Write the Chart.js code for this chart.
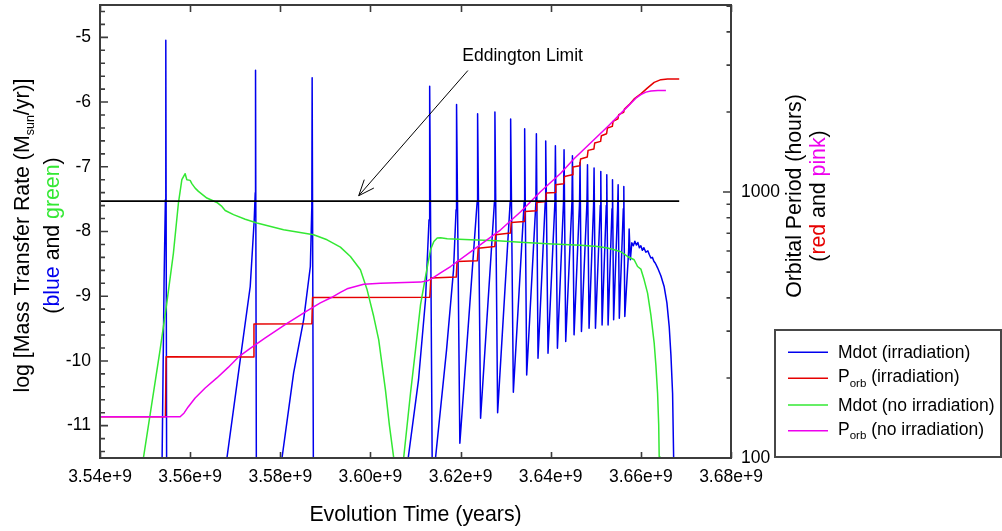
<!DOCTYPE html>
<html><head><meta charset="utf-8">
<script src="https://cdn.jsdelivr.net/npm/chart.js@4.4.1/dist/chart.umd.min.js"></script>
<style>html,body{margin:0;padding:0;background:#fff;overflow:hidden}canvas{display:block}</style>
</head><body>
<canvas id="c" width="1002" height="531" style="width:1002px;height:531px"></canvas>
<script>
// ---------------- data (time in units of 1e9 years) ----------------
const xTickValues = [3.54, 3.56, 3.58, 3.60, 3.62, 3.64, 3.66, 3.68];
const xTickLabels = ['3.54e+9','3.56e+9','3.58e+9','3.60e+9','3.62e+9','3.64e+9','3.66e+9','3.68e+9'];
const mdotTickValues = [-11, -10, -9, -8, -7, -6, -5];
const mdotTickLabels = ['-11', '-10', '-9', '-8', '-7', '-6', '-5'];
const porbTickValues = [100, 1000];
const porbTickLabels = ['100', '1000'];
const porbMinorTicks = [200,300,400,500,600,700,800,900,2000,3000,4000,5000];

// Mdot (irradiation), log Msun/yr
const mdotIrrTime = [
3.55111,3.55378,3.55422,3.55451,3.55460,3.55482,
3.56667,3.56816,3.57111,3.57333,3.57422,3.57444,3.57451,3.57473,
3.57889,3.58038,3.58296,3.58518,3.58667,3.58700,3.58707,3.58740,
3.60667,3.60838,3.61067,3.61222,3.61300,3.61311,3.61318,3.61384,
3.61411,3.61444,3.61689,3.61844,3.61900,3.61911,3.61984,
3.62367,3.62378,3.62444,
3.62751,3.62762,3.62822,
3.63100,3.63111,3.63171,
3.63411,3.63422,3.63467,
3.63671,3.63682,3.63718,
3.63878,3.63889,3.63940,
3.64093,3.64104,3.64149,
3.64284,3.64296,3.64333,
3.64471,3.64482,3.64518,
3.64640,3.64651,3.64682,
3.64804,3.64816,3.64851,
3.64951,3.64962,3.64993,
3.65100,3.65111,3.65140,
3.65233,3.65244,3.65273,
3.65360,3.65371,3.65396,
3.65484,3.65496,3.65522,
3.65611,3.65622,3.65644,
3.65729,3.65740,3.65767,3.65800,3.65833,3.65867,3.65900,3.65933,3.65967,3.66000,
3.66033,3.66067,3.66111,3.66156,3.66189,3.66222,3.66256,3.66289,3.66322,3.66371,
3.66444,3.66518,3.66578,3.66629,3.66667,3.66704,3.66727,3.66738];
const mdotIrrLog = [
-13,-11.5,-8.747,-7.509,-5.045,-13,
-12.2,-11.5,-9.984,-8.85,-7.818,-7.401,-5.509,-13,
-12.2,-11.5,-10.185,-9.365,-8.541,-7.613,-5.626,-13,
-12.2,-11.5,-10.294,-9.055,-7.818,-7.509,-5.756,-13,
-12.2,-11.5,-9.83,-8.592,-7.664,-6.039,-11.273,
-7.55,-6.179,-10.886,
-7.55,-6.152,-10.799,
-7.55,-6.261,-10.484,
-7.55,-6.411,-10.216,
-7.55,-6.488,-9.958,
-7.55,-6.601,-9.881,
-7.55,-6.674,-9.803,
-7.55,-6.735,-9.701,
-7.55,-6.828,-9.597,
-7.55,-6.932,-9.546,
-7.55,-6.968,-9.494,
-7.6,-7.019,-9.494,
-7.6,-7.071,-9.443,
-7.6,-7.122,-9.443,
-7.65,-7.2,-9.365,
-7.65,-7.277,-9.339,
-7.65,-7.303,-9.314,
-8.3,-7.962,-8.437,-8.174,-8.22,-8.15,-8.21,-8.17,-8.25,-8.22,
-8.29,-8.25,-8.32,-8.30,-8.36,-8.41,-8.40,-8.46,-8.49,-8.561,
-8.685,-8.855,-9.102,-9.469,-9.907,-10.499,-11.48,-12.5];

// P_orb (irradiation), hours
const porbIrrTime = [
3.54000,3.55451,3.55467,3.57400,3.57416,3.58700,3.58716,3.61318,3.61340,3.61904,
3.61922,3.62373,3.62391,3.62760,3.62776,3.63107,3.63124,3.63418,3.63433,3.63676,
3.63689,3.63884,3.63902,3.64098,3.64111,3.64289,3.64307,3.64476,3.64493,3.64644,
3.64662,3.64811,3.64829,3.64958,3.64976,3.65107,3.65124,3.65240,3.65258,3.65367,
3.65384,3.65491,3.65509,3.65618,3.65636,3.65740,3.65851,3.66000,3.66149,3.66296,
3.66444,3.66593,3.66851];
const porbIrrHours = [
143,143,240.5,240,319,320,401,402,474.7,478.8,
548,551.4,615.3,623.9,690.7,700.9,768.5,775.1,845.3,850.4,
914,921.9,991.3,996.5,1065.4,1074.6,1144.9,1161.9,1242.2,1256.3,
1331.4,1354.5,1434.3,1451.7,1529.1,1550.4,1628.9,1657.3,1741.3,1765.7,
1844,1883,1954.3,1993.7,2050,2131,2240,2340,2463,2585,
2646,2662,2662];

// Mdot (no irradiation), log Msun/yr
const mdotNoIrrTime = [
3.54844,3.54962,3.55333,3.55482,3.55629,3.55740,3.55816,3.55889,3.55927,3.56000,
3.56038,3.56111,3.56184,3.56371,3.56593,3.56704,3.56778,3.56962,3.57222,3.57482,
3.58073,3.58740,3.59038,3.59333,3.59556,3.59778,3.59927,3.60073,3.60184,3.60333,
3.60422,3.60518,3.60578,
3.60667,3.60740,3.60889,3.61000,3.61111,3.61222,3.61333,3.61407,3.61482,3.61556,
3.61704,3.62222,3.62816,3.63333,3.63927,3.64667,3.65038,3.65260,3.65407,3.65556,
3.65704,3.65851,3.65927,3.66000,3.66073,3.66149,3.66222,3.66296,3.66333,3.66371,
3.66396,3.66407,3.66422];
const mdotNoIrrLog = [
-12.3,-11.505,-9.83,-9.107,-8.334,-7.56,-7.2,-7.107,-7.2,-7.21,
-7.26,-7.33,-7.38,-7.483,-7.551,-7.613,-7.675,-7.74,-7.81,-7.869,
-7.973,-8.05,-8.128,-8.241,-8.386,-8.592,-8.901,-9.314,-9.675,-10.448,
-11.0,-11.505,-12.3,
-12.0,-11.48,-10.499,-9.83,-9.133,-8.696,-8.282,-8.154,-8.101,-8.097,
-8.112,-8.128,-8.143,-8.166,-8.19,-8.213,-8.231,-8.256,-8.282,-8.313,
-8.386,-8.437,-8.541,-8.58,-8.747,-8.952,-9.288,-9.726,-10.062,-10.499,
-10.99,-11.48,-12.3];

// P_orb (no irradiation), hours
const porbNoIrrTime = [
3.54000,3.55778,3.55867,3.55956,3.56111,3.56333,3.56593,3.56844,3.57067,3.57333,
3.57667,3.58133,3.58593,3.58889,3.59133,3.59333,3.59482,3.59851,3.60222,3.61111,
3.61267,3.61378,3.61556,3.61778,3.62222,3.62889,3.63333,3.63778,3.64222,3.64518,
3.64889,3.65260,3.65704,3.65889,3.66000,3.66111,3.66222,3.66378,3.66556];
const porbNoIrrHours = [
143,143,147.7,155.6,168.2,183.4,200,219.1,239.3,258.4,
282.9,319.4,357.5,383.2,401.2,419.7,432.6,449.8,453.7,458.5,
463.7,474.7,496.9,524.8,596,721.2,843.2,1005.3,1177.3,1334.8,
1533,1761.2,2094.5,2254.4,2324.1,2375,2399.8,2410,2410];

// Eddington limit
const eddTime = [3.54, 3.66851];
const eddLog = [-7.53, -7.53];

// annotation (data coordinates)
const arrowTail = [3.62162, -5.513];
const arrowTip = [3.59740, -7.447];
const annotText = 'Eddington Limit';
const annotPos = [3.62038, -5.297];

// ---------------- styles ----------------
const COL = {blue:'#0000ee', red:'#e60000', green:'#33e833', magenta:'#ee00ee', text:'#000', frame:'#3c3c3c'};
const FONT = '"Liberation Sans", Arial, sans-serif';

function zip(t, v) { const n = Math.min(t.length, v.length); const o = []; for (let i = 0; i < n; i++) o.push({x: t[i], y: v[i]}); return o; }

function drawRich(ctx, segs, x, y, rot, align) {
  ctx.save(); ctx.translate(x, y); if (rot) ctx.rotate(rot);
  ctx.textBaseline = 'alphabetic'; ctx.textAlign = 'left';
  let w = 0;
  for (const s of segs) { ctx.font = s.s + 'px ' + FONT; s.w = ctx.measureText(s.t).width; w += s.w; }
  let cx = align === 'center' ? -w / 2 : 0;
  for (const s of segs) { ctx.font = s.s + 'px ' + FONT; ctx.fillStyle = s.c || COL.text; ctx.fillText(s.t, cx, s.dy || 0); cx += s.w; }
  ctx.restore();
}

const decor = {
  id: 'decor',
  afterDraw(chart) {
    const ctx = chart.ctx, ca = chart.chartArea;
    const xs = chart.scales.x, yl = chart.scales.y, yr = chart.scales.y2;
    ctx.save();
    // frame
    ctx.strokeStyle = COL.frame; ctx.lineWidth = 2;
    ctx.strokeRect(ca.left, ca.top, ca.right - ca.left, ca.bottom - ca.top);
    ctx.lineWidth = 1.6;
    ctx.beginPath();
    // x ticks
    for (const v of xTickValues) {
      const p = Math.round(xs.getPixelForValue(v)) + 0.5;
      ctx.moveTo(p, ca.bottom); ctx.lineTo(p, ca.bottom - 6);
      ctx.moveTo(p, ca.top); ctx.lineTo(p, ca.top + 7);
    }
    // left ticks
    for (const v of mdotTickValues) { const p = yl.getPixelForValue(v); ctx.moveTo(ca.left, p); ctx.lineTo(ca.left + 8, p); }
    for (let k = -114; k <= -46; k += 2) { if (k % 10 === 0) continue; const p = yl.getPixelForValue(k / 10); ctx.moveTo(ca.left, p); ctx.lineTo(ca.left + 5, p); }
    // right ticks
    for (const v of porbTickValues) { const p = yr.getPixelForValue(v); ctx.moveTo(ca.right, p); ctx.lineTo(ca.right - 8, p); }
    for (const v of porbMinorTicks) { const p = yr.getPixelForValue(v); ctx.moveTo(ca.right, p); ctx.lineTo(ca.right - 4.5, p); }
    ctx.stroke();

    // tick labels
    ctx.fillStyle = COL.text; ctx.font = '17.5px ' + FONT; ctx.textBaseline = 'middle';
    ctx.textAlign = 'center';
    xTickValues.forEach((v, i) => ctx.fillText(xTickLabels[i], xs.getPixelForValue(v), 477));
    ctx.textAlign = 'right';
    mdotTickValues.forEach((v, i) => ctx.fillText(mdotTickLabels[i], ca.left - 9, yl.getPixelForValue(v)));
    ctx.textAlign = 'left';
    porbTickValues.forEach((v, i) => ctx.fillText(porbTickLabels[i], ca.right + 10, yr.getPixelForValue(v)));

    // axis titles
    const T = 21.3;
    drawRich(ctx, [{t:'Evolution Time (years)', s:T}], (ca.left + ca.right) / 2, 521, 0, 'center');
    drawRich(ctx, [{t:'log [Mass Transfer Rate (M', s:T}, {t:'sun', s:12.5, dy:5}, {t:'/yr)]', s:T}], 28.8, 235.5, -Math.PI/2, 'center');
    drawRich(ctx, [{t:'(', s:T}, {t:'blue', s:T, c:COL.blue}, {t:' and ', s:T}, {t:'green', s:T, c:COL.green}, {t:')', s:T}], 58.5, 235.5, -Math.PI/2, 'center');
    drawRich(ctx, [{t:'Orbital Period (hours)', s:T}], 800.5, 196, -Math.PI/2, 'center');
    drawRich(ctx, [{t:'(', s:T}, {t:'red', s:T, c:COL.red}, {t:' and ', s:T}, {t:'pink', s:T, c:COL.magenta}, {t:')', s:T}], 825, 196, -Math.PI/2, 'center');

    // annotation arrow
    const tx = xs.getPixelForValue(arrowTail[0]), ty = yl.getPixelForValue(arrowTail[1]);
    const hx = xs.getPixelForValue(arrowTip[0]), hy = yl.getPixelForValue(arrowTip[1]);
    ctx.strokeStyle = '#000'; ctx.lineWidth = 1;
    ctx.beginPath(); ctx.moveTo(tx, ty); ctx.lineTo(hx, hy);
    const ang = Math.atan2(ty - hy, tx - hx), L = 17, a = 22 * Math.PI / 180;
    ctx.moveTo(hx + L * Math.cos(ang + a), hy + L * Math.sin(ang + a)); ctx.lineTo(hx, hy);
    ctx.lineTo(hx + L * Math.cos(ang - a), hy + L * Math.sin(ang - a));
    ctx.stroke();
    ctx.fillStyle = COL.text; ctx.font = '17.5px ' + FONT; ctx.textAlign = 'left'; ctx.textBaseline = 'middle';
    ctx.fillText(annotText, xs.getPixelForValue(annotPos[0]), yl.getPixelForValue(annotPos[1]));

    // legend
    ctx.strokeStyle = '#474747'; ctx.lineWidth = 2;
    ctx.strokeRect(775, 330, 226, 127);
    const rows = [
      {y:352.3, c:COL.blue, segs:[{t:'Mdot (irradiation)', s:17.5}], b:6},
      {y:378.3, c:COL.red, segs:[{t:'P', s:17.5}, {t:'orb', s:11.5, dy:4.5}, {t:' (irradiation)', s:17.5}], b:4},
      {y:405, c:COL.green, segs:[{t:'Mdot (no irradiation)', s:17.5}], b:6},
      {y:430.7, c:COL.magenta, segs:[{t:'P', s:17.5}, {t:'orb', s:11.5, dy:4.5}, {t:' (no irradiation)', s:17.5}], b:4}
    ];
    for (const r of rows) {
      ctx.strokeStyle = r.c; ctx.lineWidth = 1.5;
      ctx.beginPath(); ctx.moveTo(788, r.y); ctx.lineTo(828, r.y); ctx.stroke();
      drawRich(ctx, r.segs, 838, r.y + r.b, 0, 'left');
    }
    ctx.restore();
  }
};

const common = {pointRadius: 0, borderWidth: 1.5, tension: 0, fill: false, borderJoinStyle: 'round', spanGaps: false};

new Chart(document.getElementById('c'), {
  type: 'line',
  data: {
    datasets: [
      Object.assign({label: 'Eddington', data: zip(eddTime, eddLog), borderColor: '#000', yAxisID: 'y', order: 0}, common, {borderWidth: 1.6}),
      Object.assign({label: 'Porb (no irradiation)', data: zip(porbNoIrrTime, porbNoIrrHours), borderColor: COL.magenta, yAxisID: 'y2', order: 1}, common),
      Object.assign({label: 'Mdot (no irradiation)', data: zip(mdotNoIrrTime, mdotNoIrrLog), borderColor: COL.green, yAxisID: 'y', order: 2}, common),
      Object.assign({label: 'Porb (irradiation)', data: zip(porbIrrTime, porbIrrHours), borderColor: COL.red, yAxisID: 'y2', order: 3}, common),
      Object.assign({label: 'Mdot (irradiation)', data: zip(mdotIrrTime, mdotIrrLog), borderColor: COL.blue, yAxisID: 'y', order: 4}, common)
    ]
  },
  options: {
    responsive: false, animation: false, devicePixelRatio: 1,
    layout: {padding: {top: 5, left: 0, right: 0, bottom: 0}},
    plugins: {legend: {display: false}, tooltip: {enabled: false}},
    events: [],
    scales: {
      x: {type: 'linear', position: 'bottom', min: 3.54, max: 3.68,
          afterBuildTicks: s => { s.ticks = xTickValues.map(v => ({value: v})); },
          afterFit: s => { s.height = 73; },
          grid: {display: false}, border: {display: false}, ticks: {display: false}},
      y: {type: 'linear', position: 'left', min: -11.5, max: -4.5,
          afterBuildTicks: s => { s.ticks = mdotTickValues.map(v => ({value: v})); },
          afterFit: s => { s.width = 100; },
          grid: {display: false}, border: {display: false}, ticks: {display: false}},
      y2: {type: 'logarithmic', position: 'right', min: 100, max: 5050,
          afterBuildTicks: s => { s.ticks = porbTickValues.map(v => ({value: v})); },
          afterFit: s => { s.width = 271; },
          grid: {display: false}, border: {display: false}, ticks: {display: false}}
    }
  },
  plugins: [decor]
});
</script>
</body></html>
